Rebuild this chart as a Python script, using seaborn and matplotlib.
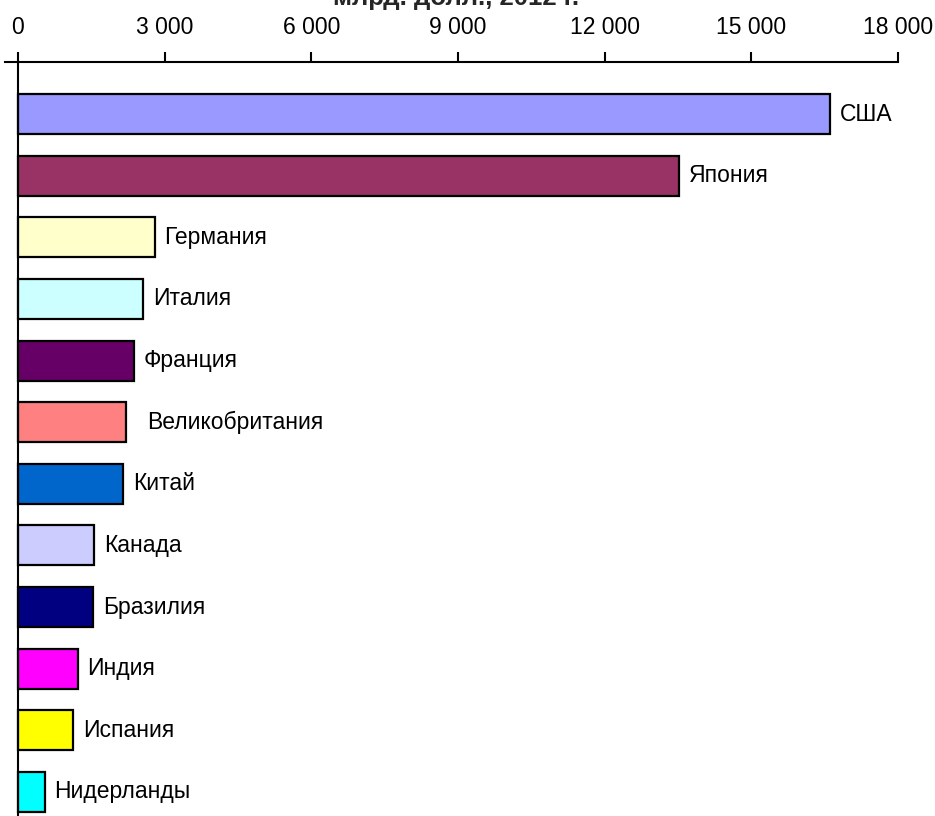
import matplotlib
matplotlib.use("Agg")
import matplotlib.pyplot as plt
import seaborn as sns
import pandas as pd
from matplotlib.ticker import FuncFormatter

countries = ["США", "Япония", "Германия", "Италия", "Франция", "Великобритания",
             "Китай", "Канада", "Бразилия", "Индия", "Испания", "Нидерланды"]
values = [16610, 13520, 2800, 2560, 2370, 2210, 2150, 1555, 1535, 1225, 1125, 550]
colors = ["#9999FF", "#993366", "#FFFFCC", "#CCFFFF", "#660066", "#FF8080",
          "#0066CC", "#CCCCFF", "#000080", "#FF00FF", "#FFFF00", "#00FFFF"]
ticks = [0, 3000, 6000, 9000, 12000, 15000, 18000]
title = "млрд. долл., 2012 г."

df = pd.DataFrame({"country": countries, "value": values})

sns.set_style("white")
plt.rcParams["font.family"] = ["Liberation Sans", "DejaVu Sans"]

fig = plt.figure(figsize=(9.35, 8.16), dpi=100)
ax = fig.add_axes([4.8 / 935, 0.0, 893.2 / 935, 1 - 62 / 816])

sns.barplot(data=df, x="value", y="country", hue="country",
            palette=dict(zip(countries, colors)), orient="h",
            width=0.65, dodge=False, legend=False, ax=ax,
            edgecolor="black", linewidth=1.6, saturation=1)

for i, (name, v) in enumerate(zip(countries, values)):
    pad = 15 if name == "Великобритания" else 7
    ax.annotate(name, (v, i), xytext=(pad, 0), textcoords="offset points",
                va="center", ha="left", fontsize=16.5, color="black")

ax.set_xlim(-270, 18000)
ax.set_ylim(11.39, -0.845)
ax.set_xlabel("")
ax.set_ylabel("")
ax.set_yticks([])

ax.xaxis.tick_top()
ax.set_xticks(ticks)
ax.xaxis.set_major_formatter(FuncFormatter(lambda x, p: f"{int(x):,}".replace(",", " ")))
ax.tick_params(axis="x", direction="out", length=7, width=1.5, pad=9.5,
               labelsize=16.5, colors="black", top=True, bottom=False)

for s in ["right", "bottom"]:
    ax.spines[s].set_visible(False)
ax.spines["top"].set_linewidth(1.5)
ax.spines["top"].set_color("black")
ax.spines["left"].set_position(("data", 0))
ax.spines["left"].set_linewidth(1.5)
ax.spines["left"].set_color("black")

fig.text(456 / 935, 1 - 5 / 816, title, ha="center", va="baseline",
         fontsize=18.5, fontweight="bold")

fig.savefig("out.png", dpi=100)
